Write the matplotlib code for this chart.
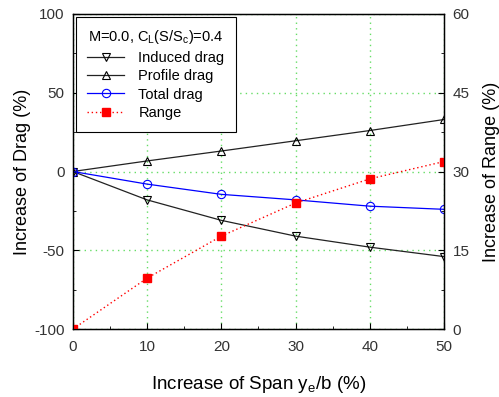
import matplotlib.pyplot as plt
from matplotlib.ticker import MultipleLocator

plt.rcParams['font.family'] = ['Liberation Sans', 'DejaVu Sans']
plt.rcParams['axes.unicode_minus'] = False
plt.rcParams['mathtext.default'] = 'regular'

span = [0, 10, 20, 30, 40, 50]
induced = [0, -18, -31, -41, -48, -54]
profile = [0, 6.7, 13, 19.5, 26, 33]
total = [0, -8, -14.5, -18, -22, -24]
rng = [0, 9.7, 17.7, 24, 28.6, 31.9]

fig = plt.figure(figsize=(4.99, 3.97), dpi=100)
ax = fig.add_axes([0.146, 0.171, 0.744, 0.794])
ax2 = ax.twinx()

h1, = ax.plot(span, induced, color='#222222', lw=0.9, marker='v', ms=6,
              mfc='none', mec='black', mew=0.8, label='Induced drag')
h2, = ax.plot(span, profile, color='#222222', lw=0.9, marker='^', ms=6,
              mfc='none', mec='black', mew=0.8, label='Profile drag')
h3, = ax.plot(span, total, color='blue', lw=0.9, marker='o', ms=6,
              mfc='none', mec='blue', mew=0.8, label='Total drag')
h4, = ax2.plot(span, rng, color='red', lw=1.0, ls=(0, (1, 2)), marker='s', ms=5.5,
               mfc='red', mec='red', label='Range')

ax.set_xlim(0, 50)
ax.set_ylim(-100, 100)
ax2.set_ylim(0, 60)
ax.set_xticks([0, 10, 20, 30, 40, 50])
ax.set_yticks([-100, -50, 0, 50, 100])
ax2.set_yticks([0, 15, 30, 45, 60])
ax.xaxis.set_minor_locator(MultipleLocator(5))
ax.yaxis.set_minor_locator(MultipleLocator(25))
ax2.yaxis.set_minor_locator(MultipleLocator(7.5))

for a in (ax, ax2):
    a.tick_params(which='both', direction='in', labelsize=11, colors='black',
                  labelcolor='#333333', pad=6)
    a.tick_params(which='major', length=4)
    a.tick_params(which='minor', length=2)
ax.tick_params(axis='x', pad=8)

ax.grid(True, which='major', color='#66dd66', ls=(0, (1, 3)), lw=1.0)
for s in ax.spines.values():
    s.set_linewidth(1.0)

ax.set_xlabel('Increase of Span y$_e$/b (%)', fontsize=13.5, labelpad=14)
ax.set_ylabel('Increase of Drag (%)', fontsize=13, labelpad=2)
ax2.set_ylabel('Increase of Range (%)', fontsize=13, labelpad=10)

leg = ax.legend(handles=[h1, h2, h3, h4], loc='upper left',
                title='M=0.0, C$_L$(S/S$_c$)=0.4', fontsize=10.5,
                title_fontsize=10.5, fancybox=False, edgecolor='black',
                framealpha=1, borderaxespad=0.2, handlelength=2.5,
                borderpad=0.8, labelspacing=0.3, handletextpad=1.0)
leg.get_frame().set_linewidth(0.8)

plt.savefig('out.png', dpi=100)
